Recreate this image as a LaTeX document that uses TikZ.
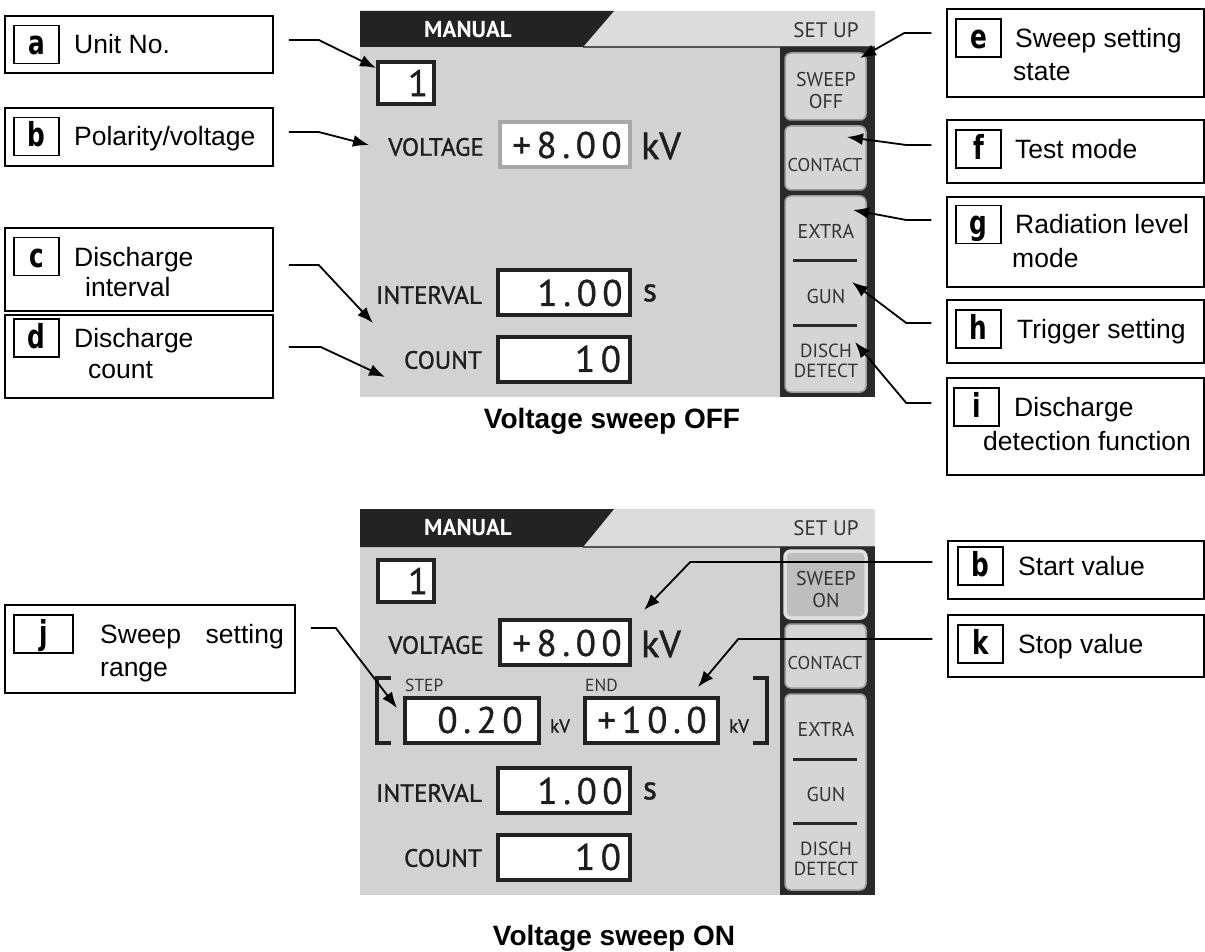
\documentclass[tikz,border=0pt]{standalone}
\usepackage{fontspec}
\setmainfont{Liberation Sans}
\newfontfamily\scrreg{PT Sans}
\newfontfamily\scrmed[FakeBold=1.2]{PT Sans}
\newfontfamily\scrnum[LetterSpace=15,FakeBold=0.8]{PT Sans}
\newfontfamily\letfam[FakeStretch=0.75]{DejaVu Sans}
\usetikzlibrary{arrows.meta}
\definecolor{scrbg}{HTML}{D2D2D2}
\definecolor{hdrbg}{HTML}{DCDCDC}
\definecolor{hdrline}{HTML}{555555}
\definecolor{hdrdark}{HTML}{232323}
\definecolor{paneldark}{HTML}{2A2A2A}
\definecolor{btnfill}{HTML}{D5D5D5}
\definecolor{btnedge}{HTML}{9C9C9C}
\definecolor{btnonfill}{HTML}{BEBEBE}
\definecolor{btnonedge}{HTML}{E0E0E0}
\definecolor{txtdark}{HTML}{1E1E1E}
\definecolor{btntext}{HTML}{333333}
\definecolor{vgray}{HTML}{A8A8A8}
\definecolor{vblack}{HTML}{222222}
\newcommand\lblfont{\fontsize{26.5}{30}\selectfont}
\newcommand\letfont{\letfam\bfseries\fontsize{33}{33}\selectfont}
\newcommand\capfont{\bfseries\fontsize{28}{30}\selectfont}
\begin{document}
\begin{tikzpicture}[x=1pt,y=-1pt,
  lbox/.style={draw=black, line width=1.5pt, inner sep=0pt},
  letbox/.style={draw=black, line width=1.6pt, inner sep=0pt, minimum width=45pt,
     minimum height=38pt, text height=29.5pt, text depth=8.5pt, font=\letfont},
  ltxt/.style={anchor=base west, inner sep=0pt, font=\lblfont},
  conn/.style={line width=1.8pt, -{Latex[length=16pt,width=12pt]}},
  scrlabel/.style={anchor=east, inner sep=0pt, text=txtdark, font=\scrmed\fontsize{25}{25}\selectfont},
  numtxt/.style={inner sep=0pt, text=txtdark, font=\scrnum\fontsize{37}{37}\selectfont},
  btntxt/.style={inner sep=0pt, text=btntext, align=center, font=\scrreg\fontsize{20}{22}\selectfont},
  valbox/.style={fill=white, line width=3.5pt},
  sepline/.style={draw=paneldark, line width=3pt},
  captxt/.style={anchor=base, inner sep=0pt, font=\capfont}
]
\useasboundingbox (0,0) rectangle (1205,952);

% ---------------- screens ----------------
\foreach \dy/\sw/\sfill/\sdraw/\slw/\vb/\hb in {0/OFF/btnfill/btnedge/1.5/vgray/47, 498/ON/btnonfill/btnonedge/3.5/vblack/49}{
\begin{scope}[shift={(0,\dy)}]
  \fill[scrbg] (360,11) rectangle (875,397);
  \fill[hdrbg] (360,11) rectangle (875,\hb);
  \draw[hdrline, line width=1.5pt] (583,\hb) -- (875,\hb);
  \fill[hdrdark] (360,11) -- (614,11) -- (583,\hb) -- (360,\hb) -- cycle;
  \node[inner sep=0pt, text=white, font=\scrreg\bfseries\fontsize{23}{23}\selectfont] at (468,30) {MANUAL};
  \node[inner sep=0pt, text=btntext, font=\scrreg\fontsize{21}{21}\selectfont] at (826,30) {SET UP};
  \fill[paneldark] (780,\hb) rectangle (875,397);
  \draw[fill=\sfill, draw=\sdraw, line width=\slw pt, rounded corners=6pt] (785,53) rectangle (866,120);
  \draw[fill=btnfill, draw=btnedge, line width=1.5pt, rounded corners=6pt] (785,126) rectangle (866,190);
  \draw[fill=btnfill, draw=btnedge, line width=1.5pt, rounded corners=6pt] (785,196) rectangle (866,392);
  \node[btntxt] at (826,91) {SWEEP\\\sw};
  \node[btntxt, font=\scrreg\fontsize{18.5}{20}\selectfont] at (825,165) {CONTACT};
  \node[btntxt] at (826,231) {EXTRA};
  \draw[sepline] (793,261) -- (857,261);
  \node[btntxt] at (826,296) {GUN};
  \draw[sepline] (793,325) -- (857,325);
  \node[btntxt, font=\scrreg\fontsize{19}{19.5}\selectfont] at (826,361) {DISCH\\DETECT};
  % unit number
  \draw[valbox, draw=vblack] (378,62) rectangle (434,104);
  \node[numtxt] at (418,83) {1};
  % voltage
  \node[scrlabel] at (484,147) {VOLTAGE};
  \draw[valbox, draw=\vb] (500,122) rectangle (630,167);
  \node[numtxt] at (567,145) {+8.00};
  \node[inner sep=0pt, text=txtdark, font=\scrmed\fontsize{38}{38}\selectfont] at (661,146) {kV};
  % interval
  \node[scrlabel] at (482,295) {INTERVAL};
  \draw[valbox, draw=vblack] (498,270) rectangle (630,315);
  \node[numtxt] at (580,293) {1.00};
  \node[inner sep=0pt, text=txtdark, font=\scrmed\fontsize{33}{33}\selectfont] at (650,293) {s};
  % count
  \node[scrlabel] at (482,360) {COUNT};
  \draw[valbox, draw=vblack] (498,337) rectangle (630,382);
  \node[numtxt] at (598,359) {10};
\end{scope}
}

% step / end row (sweep on)
\begin{scope}[shift={(0,498)}]
  \draw[line width=4pt, draw=vblack] (391,180) -- (377,180) -- (377,245) -- (391,245);
  \draw[line width=4pt, draw=vblack] (753,180) -- (767,180) -- (767,245) -- (753,245);
  \node[inner sep=0pt, anchor=west, text=btntext, font=\scrreg\fontsize{17.5}{17.5}\selectfont] at (405,187.5) {STEP};
  \node[inner sep=0pt, anchor=west, text=btntext, font=\scrreg\fontsize{17.5}{17.5}\selectfont] at (585,187.5) {END};
  \draw[valbox, draw=vblack] (405,200) rectangle (539,245);
  \draw[valbox, draw=vblack] (585,200) rectangle (718,245);
  \node[numtxt] at (480,222) {0.20};
  \node[numtxt] at (652,222) {+10.0};
  \node[inner sep=0pt, text=txtdark, font=\scrmed\fontsize{19}{19}\selectfont] at (560,228) {kV};
  \node[inner sep=0pt, text=txtdark, font=\scrmed\fontsize{19}{19}\selectfont] at (739,228) {kV};
\end{scope}

% captions
\node[captxt] (capoff) at (612,428) {Voltage sweep OFF};
\node[captxt] (capon) at (614,945) {Voltage sweep ON};

% ---------------- left labels (top) ----------------
\node[lbox, minimum width=268pt, minimum height=57pt] (A) at (139,44.5) {};
\node[letbox] (la) at (36.5,44.5) {a};
\node[ltxt] (ta) at (74,54) {Unit No.};

\node[lbox, minimum width=268pt, minimum height=58pt] (B) at (139,137) {};
\node[letbox] (lb) at (36.5,136.5) {b};
\node[ltxt] (tb) at (74,146) {Polarity/voltage};

\node[lbox, minimum width=268pt, minimum height=83pt] (C) at (139,269.5) {};
\node[letbox] (lc) at (36.5,256.5) {c};
\node[ltxt] (tc1) at (74,266) {Discharge};
\node[ltxt] (tc2) at (85,296) {interval};

\node[lbox, minimum width=268pt, minimum height=83pt] (D) at (139,356.5) {};
\node[letbox] (ld) at (36.5,338) {d};
\node[ltxt] (td1) at (74,347.5) {Discharge};
\node[ltxt] (td2) at (88,378) {count};

\coordinate (tA) at (376,68);
\coordinate (tB) at (369,145);
\coordinate (tC) at (373,323);
\coordinate (tD) at (385,377);
\draw[conn] (A.east) ++(15,-4.5) -- ++(30,0) -- (tA);
\draw[conn] (B.east) ++(15,-5) -- ++(30,0) -- (tB);
\draw[conn] (C.east) ++(15,-4.5) -- ++(30,0) -- (tC);
\draw[conn] (D.east) ++(15,-9.5) -- ++(32,0) -- (tD);

% ---------------- right labels (top) ----------------
\node[lbox, minimum width=257pt, minimum height=88pt] (E) at (1075.5,53) {};
\node[letbox] (le) at (978.5,38) {e};
\node[ltxt] (te1) at (1015,48) {Sweep setting};
\node[ltxt] (te2) at (1013,81) {state};

\node[lbox, minimum width=257pt, minimum height=63pt] (F) at (1075.5,151.5) {};
\node[letbox] (lf) at (978.5,149) {f};
\node[ltxt] (tf) at (1015,158.5) {Test mode};

\node[lbox, minimum width=257pt, minimum height=90pt] (G) at (1075.5,242) {};
\node[letbox] (lg) at (978.5,224.5) {g};
\node[ltxt] (tg1) at (1015,234) {Radiation level};
\node[ltxt] (tg2) at (1012,267) {mode};

\node[lbox, minimum width=257pt, minimum height=63pt] (H) at (1075.5,331.5) {};
\node[letbox] (lh) at (978.5,329) {h};
\node[ltxt] (th) at (1017,338.5) {Trigger setting};

\node[lbox, minimum width=257pt, minimum height=97pt] (I) at (1075.5,426.5) {};
\node[letbox] (li) at (976.5,407) {i};
\node[ltxt] (ti1) at (1014,416.5) {Discharge};
\node[ltxt] (ti2) at (983,450) {detection function};

\coordinate (tE) at (860,58);
\coordinate (tF) at (847,137);
\coordinate (tG) at (853,210);
\coordinate (tH) at (852,282);
\coordinate (tI) at (855,342);
\draw[conn] (E.west) ++(-15,-20) -- ++(-27,0) -- (tE);
\draw[conn] (F.west) ++(-15,-6.5) -- ++(-25,0) -- (tF);
\draw[conn] (G.west) ++(-15,-22) -- ++(-25,0) -- (tG);
\draw[conn] (H.west) ++(-15,-8.5) -- ++(-25,0) -- (tH);
\draw[conn] (I.west) ++(-15,-23.5) -- ++(-25,0) -- (tI);

% ---------------- bottom labels ----------------
\node[lbox, minimum width=290pt, minimum height=88pt] (J) at (150,649) {};
\node[letbox, minimum width=59pt] (lj) at (43.5,634) {j};
\node[ltxt] (tj1) at (100,643.5) {Sweep};
\node[ltxt, anchor=base east] (tj2) at (284,643.5) {setting};
\node[ltxt] (tj3) at (100,676) {range};

\node[lbox, minimum width=256pt, minimum height=58pt] (B2) at (1076,570) {};
\node[letbox] (lb2) at (980.5,566) {b};
\node[ltxt] (tb2) at (1018,575.5) {Start value};

\node[lbox, minimum width=256pt, minimum height=62pt] (K) at (1076,646) {};
\node[letbox] (lk) at (980.5,644) {k};
\node[ltxt] (tk) at (1018,653.5) {Stop value};

\coordinate (tJ) at (397,708);
\coordinate (tB2) at (644,610);
\coordinate (tK) at (698,687);
\draw[conn] (J.east) ++(15,-21) -- ++(25,0) -- (tJ);
\draw[conn] (B2.west) ++(-15,-8) -- ++(-242,0) -- (tB2);
\draw[conn] (K.west) ++(-15,-7) -- ++(-194,0) -- (tK);
\end{tikzpicture}
\end{document}
